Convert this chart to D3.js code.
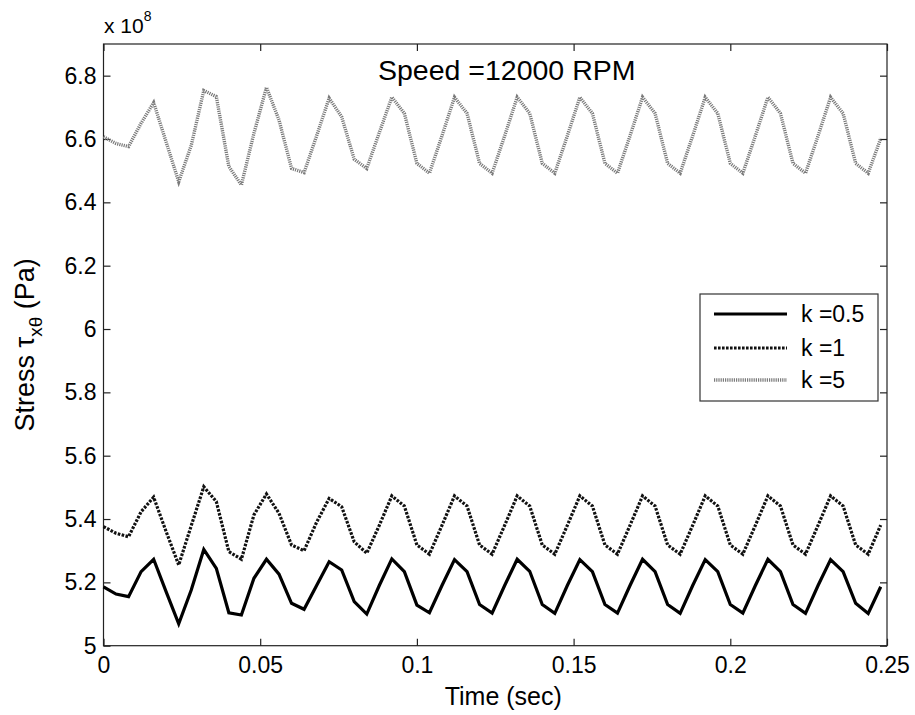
<!DOCTYPE html>
<html>
<head>
<meta charset="utf-8">
<script src="https://cdn.jsdelivr.net/npm/d3@7"></script>
<style>
  body { margin: 0; background: #fff; }
  svg { display: block; font-family: "Liberation Sans", Arial, sans-serif; }
</style>
</head>
<body>
<svg id="chart" width="915" height="715"></svg>
<script>
// ---- data ----
const timeStep = 0.004;
const sampleIndex = d3.range(63); // samples 0..62 at 0.004 s
const k05 = [5.186,5.163,5.155,5.234,5.273,5.17,5.069,5.176,5.304,5.244,
             5.104,5.097,5.213,5.273,5.226,5.134,5.115,5.19,5.265,5.239,
             5.139,5.100,5.19,5.274,5.234,5.128,5.104,5.19,5.272,5.234,
             5.13,5.103,5.19,5.273,5.235,5.13,5.102,5.19,5.272,5.234,
             5.13,5.103,5.19,5.273,5.234,5.13,5.102,5.19,5.272,5.234,
             5.13,5.103,5.19,5.273,5.234,5.13,5.102,5.19,5.272,5.234,
             5.134,5.102,5.186];
const k1 = [5.376,5.355,5.344,5.423,5.469,5.36,5.255,5.379,5.502,5.455,
            5.297,5.273,5.413,5.479,5.418,5.318,5.300,5.39,5.465,5.439,
            5.328,5.292,5.38,5.473,5.441,5.318,5.289,5.38,5.473,5.441,
            5.318,5.289,5.38,5.473,5.441,5.318,5.289,5.38,5.473,5.441,
            5.318,5.289,5.38,5.473,5.441,5.318,5.289,5.38,5.473,5.441,
            5.318,5.289,5.38,5.473,5.441,5.318,5.289,5.38,5.473,5.441,
            5.318,5.289,5.381];
const k5 = [6.607,6.586,6.576,6.650,6.715,6.59,6.465,6.58,6.753,6.734,
            6.513,6.455,6.618,6.763,6.660,6.507,6.494,6.61,6.729,6.670,
            6.536,6.507,6.62,6.732,6.681,6.523,6.492,6.61,6.732,6.681,
            6.523,6.492,6.61,6.732,6.681,6.523,6.492,6.61,6.732,6.681,
            6.523,6.492,6.61,6.732,6.681,6.523,6.492,6.61,6.732,6.681,
            6.523,6.492,6.61,6.732,6.681,6.523,6.492,6.61,6.732,6.681,
            6.523,6.492,6.602];
const seriesNames = ["k =0.5", "k =1", "k =5"];
const xTicks = [0, 0.05, 0.1, 0.15, 0.2, 0.25];
const yTicks = [5, 5.2, 5.4, 5.6, 5.8, 6, 6.2, 6.4, 6.6, 6.8];
const xDomain = [0, 0.25];
const yDomain = [5, 6.9];

// ---- layout ----
const svg = d3.select("#chart");
const L = 103.5, T = 44, R = 887, B = 645.7;
const x = d3.scaleLinear().domain(xDomain).range([L, R]);
const y = d3.scaleLinear().domain(yDomain).range([B, T]);

const styles = [
  { stroke: "#000", width: 3.2, dash: null },
  { stroke: "#111", width: 3.2, dash: "2.6,1.4" },
  { stroke: "#7a7a7a", width: 3.4, dash: "1.2,1" }
];
const allSeries = [k05, k1, k5];

// axes box
svg.append("rect").attr("x", L).attr("y", T).attr("width", R - L).attr("height", B - T)
  .attr("fill", "none").attr("stroke", "#222").attr("stroke-width", 1.2);

const tickLen = 7;
const fmt = d => String(d);
// bottom axis (ticks inside)
const xAxisB = d3.axisBottom(x).tickValues(xTicks).tickSizeInner(-tickLen).tickSizeOuter(0).tickPadding(11).tickFormat(fmt);
const gxb = svg.append("g").attr("transform", `translate(0,${B})`).call(xAxisB);
const xAxisT = d3.axisTop(x).tickValues(xTicks).tickSizeInner(-tickLen).tickSizeOuter(0).tickFormat("");
const gxt = svg.append("g").attr("transform", `translate(0,${T})`).call(xAxisT);
const yAxisL = d3.axisLeft(y).tickValues(yTicks).tickSizeInner(-tickLen).tickSizeOuter(0).tickPadding(7).tickFormat(fmt);
const gyl = svg.append("g").attr("transform", `translate(${L},0)`).call(yAxisL);
const yAxisR = d3.axisRight(y).tickValues(yTicks).tickSizeInner(-tickLen).tickSizeOuter(0).tickFormat("");
const gyr = svg.append("g").attr("transform", `translate(${R},0)`).call(yAxisR);
[gxb, gxt, gyl, gyr].forEach(g => {
  g.select(".domain").remove();
  g.selectAll(".tick line").attr("stroke", "#222").attr("stroke-width", 1.2);
  g.selectAll("text").attr("font-size", 23).attr("fill", "#000")
    .attr("font-family", "'Liberation Sans', Arial, sans-serif");
});

// lines
const line = d3.line().x((d, i) => x(sampleIndex[i] * timeStep)).y(d => y(d));
allSeries.forEach((s, i) => {
  svg.append("path").datum(s).attr("d", line)
    .attr("fill", "none").attr("stroke", styles[i].stroke)
    .attr("stroke-width", styles[i].width)
    .attr("stroke-linejoin", "miter")
    .attr("stroke-dasharray", styles[i].dash);
});

// exponent label
const ex = svg.append("text").attr("x", 104).attr("y", 33).attr("font-size", 21);
ex.append("tspan").text("x 10");
ex.append("tspan").attr("font-size", 14).attr("dy", -12).text("8");

// title
svg.append("text").attr("x", 378).attr("y", 80).attr("font-size", 28.5).text("Speed =12000 RPM");

// x label
svg.append("text").attr("x", (L + R) / 2 + 8).attr("y", 705).attr("text-anchor", "middle")
  .attr("font-size", 25).text("Time (sec)");

// y label
const yl = svg.append("text").attr("transform", `translate(34,${(T + B) / 2}) rotate(-90)`)
  .attr("text-anchor", "middle").attr("font-size", 27);
yl.append("tspan").text("Stress τ");
yl.append("tspan").attr("font-size", 19).attr("dy", 8).text("xθ");
yl.append("tspan").attr("dy", -8).text(" (Pa)");

// legend
const lg = svg.append("g");
lg.append("rect").attr("x", 700).attr("y", 294).attr("width", 178).attr("height", 107)
  .attr("fill", "#fff").attr("stroke", "#333").attr("stroke-width", 1.2);
const rowY = [314, 348, 380];
seriesNames.forEach((name, i) => {
  lg.append("line").attr("x1", 714).attr("x2", 787).attr("y1", rowY[i]).attr("y2", rowY[i])
    .attr("stroke", styles[i].stroke).attr("stroke-width", styles[i].width)
    .attr("stroke-dasharray", styles[i].dash);
  lg.append("text").attr("x", 801).attr("y", rowY[i] + 8).attr("font-size", 23).text(name);
});
</script>
</body>
</html>
